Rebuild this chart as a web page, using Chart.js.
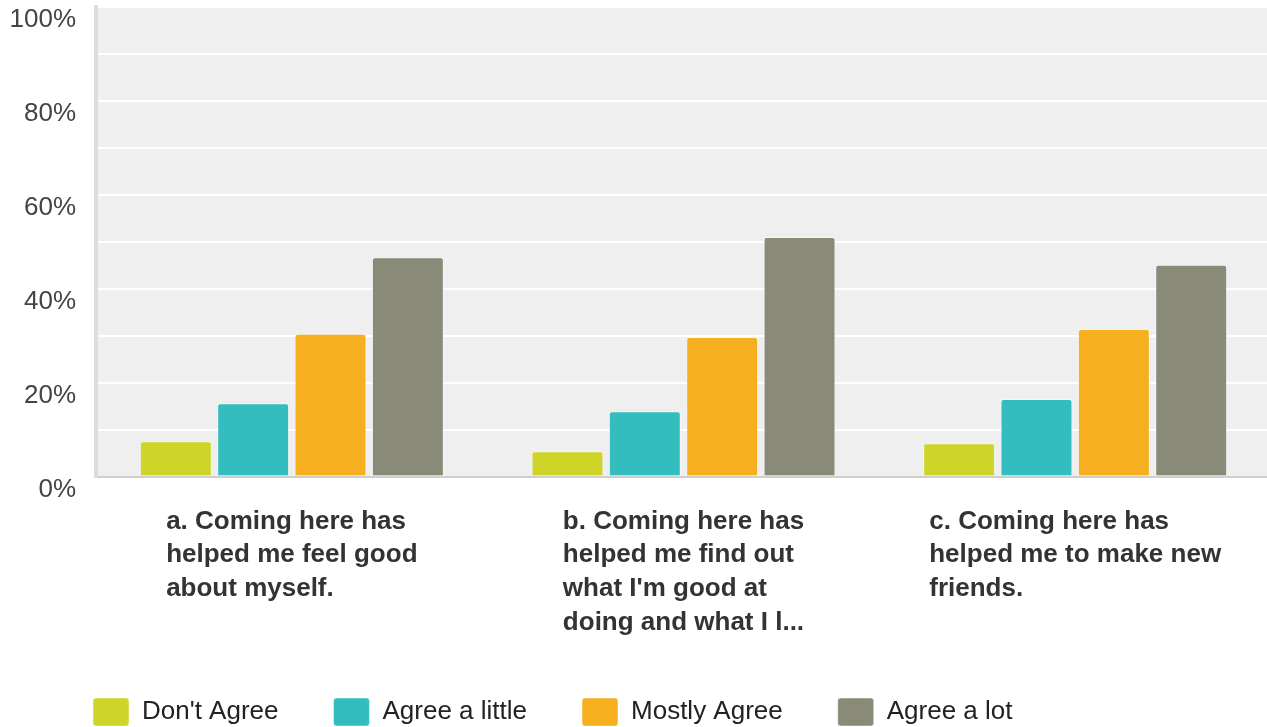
<!DOCTYPE html>
<html>
<head>
<meta charset="utf-8">
<script src="https://cdn.jsdelivr.net/npm/chart.js@4"></script>
<style>
  html, body { margin: 0; padding: 0; background: #fff; overflow: hidden; }
  #wrap { width: 1271px; height: 736px; }
</style>
</head>
<body>
<div id="wrap"><canvas id="bars"></canvas></div>
<script>
// question labels, one line per array item
const categories = [
  ["a. Coming here has", "helped me feel good", "about myself."],
  ["b. Coming here has", "helped me find out", "what I'm good at", "doing and what I l..."],
  ["c. Coming here has", "helped me to make new", "friends."],
];
const seriesNames = ["Don't Agree", "Agree a little", "Mostly Agree", "Agree a lot"];
const dontAgree = [7.5, 5.4, 7.1];
const agreeLittle = [15.6, 13.9, 16.5];
const mostlyAgree = [30.4, 29.7, 31.4];
const agreeLot = [46.7, 51.0, 45.1];
const yTicks = [0, 20, 40, 60, 80, 100];

const colors = ["#ced428", "#33bdbe", "#f6af1f", "#898a78"];
const values = [dontAgree, agreeLittle, mostlyAgree, agreeLot];

const FONT = "'Liberation Sans', Arial, sans-serif";

// gray plot background
const plotBg = {
  id: "plotBg",
  afterLayout(chart) {
    // let the y labels run out to the left edge (label clip uses scale.left)
    chart.scales.y.left = 0;
  },
  beforeDraw(chart) {
    const { ctx, chartArea: a } = chart;
    ctx.save();
    ctx.fillStyle = "#efefef";
    ctx.fillRect(a.left, a.top, a.right - a.left, a.bottom - a.top);
    ctx.restore();
  },
};

// category labels: left aligned block, centered under each group
const xLabels = {
  id: "xLabels",
  afterDraw(chart) {
    const { ctx } = chart;
    const x = chart.scales.x;
    const lh = 33.8;
    ctx.save();
    ctx.font = "bold 26px " + FONT;
    ctx.fillStyle = "#333";
    ctx.textAlign = "left";
    ctx.textBaseline = "middle";
    categories.forEach((lines, i) => {
      const w = Math.max(...lines.map(l => ctx.measureText(l).width));
      const left = x.getPixelForTick(i) - w / 2;
      lines.forEach((l, j) => {
        ctx.fillText(l, left, x.top + 28 + lh * (j + 0.5));
      });
    });
    ctx.restore();
  },
};

const barConfig = {
  type: "bar",
  data: {
    labels: categories,
    datasets: seriesNames.map((name, i) => ({
      label: name,
      data: values[i],
      backgroundColor: colors[i],
      borderColor: "rgba(255,255,255,0.45)",
      borderWidth: 1,
      borderRadius: 3,
      barPercentage: 0.93,
      categoryPercentage: 0.79,
    })),
  },
  options: {
    responsive: true,
    maintainAspectRatio: false,
    animation: false,
    layout: { padding: { left: 38, top: 7, right: 0, bottom: 0 } },
    scales: {
      x: {
        grid: { display: false },
        border: { color: "#cfcfcf", width: 2 },
        ticks: { display: false },
        afterFit(s) {
          s.height = 166.5;
          s.paddingLeft = 0;
          s.paddingRight = 0;
        },
      },
      y: {
        min: 0,
        max: 100,
        grid: { color: "#ffffff", lineWidth: 2, drawTicks: false },
        border: { color: "#dcdcdc", width: 4 },
        ticks: {
          stepSize: 10,
          padding: 20,
          labelOffset: 13,
          color: "#444",
          font: { family: FONT, size: 26 },
          callback: v => (yTicks.includes(v) ? v + "%" : ""),
        },
        afterFit(s) {
          s.width = 58;
          s.paddingTop = 0;
          s.paddingBottom = 0;
        },
      },
    },
    plugins: {
      tooltip: { enabled: false },
      legend: {
        position: "bottom",
        align: "start",
        labels: {
          boxWidth: 36,
          boxHeight: 28,
          padding: 55,
          useBorderRadius: true,
          borderRadius: 3,
          color: "#222",
          font: { family: FONT, size: 26 },
        },
      },
    },
  },
  plugins: [plotBg, xLabels],
};

const barsCtx = document.getElementById("bars");
window.myBar = new Chart(barsCtx, barConfig);
</script>
</body>
</html>
